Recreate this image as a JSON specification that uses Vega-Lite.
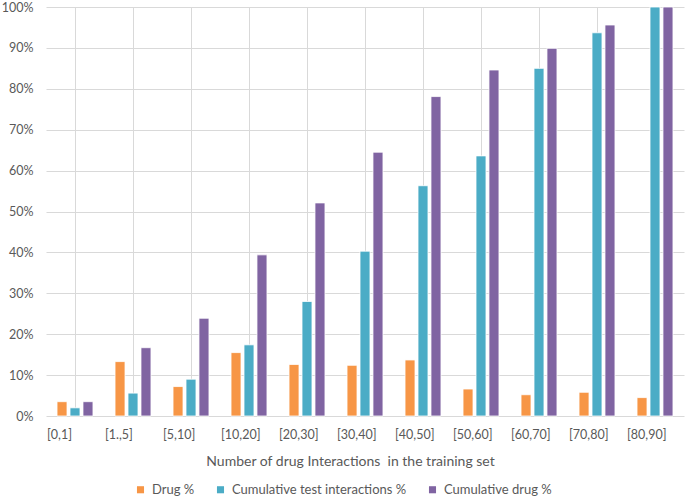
{
  "$schema": "https://vega.github.io/schema/vega-lite/v6.json",
  "autosize": {"type": "none"},
  "padding": {"left": 46, "top": 7, "right": 1, "bottom": 82},
  "width": 638,
  "height": 409,
  "background": "white",
  "config": {
    "view": {"stroke": null},
    "font": "Lato",
    "axis": {"labelFont": "Lato", "titleFont": "Lato", "labelColor": "#595959", "titleColor": "#595959", "gridColor": "#D9D9D9", "gridWidth": 1},
    "legend": {"labelFont": "Lato", "labelColor": "#595959"}
  },
  "data": {
    "values": [
      {"bin": "[0,1]", "series": "Drug %", "value": 3.5},
      {"bin": "[0,1]", "series": "Cumulative test interactions %", "value": 2.0},
      {"bin": "[0,1]", "series": "Cumulative drug %", "value": 3.5},
      {"bin": "[1.,5]", "series": "Drug %", "value": 13.3},
      {"bin": "[1.,5]", "series": "Cumulative test interactions %", "value": 5.6},
      {"bin": "[1.,5]", "series": "Cumulative drug %", "value": 16.7},
      {"bin": "[5,10]", "series": "Drug %", "value": 7.2},
      {"bin": "[5,10]", "series": "Cumulative test interactions %", "value": 9.0},
      {"bin": "[5,10]", "series": "Cumulative drug %", "value": 23.9},
      {"bin": "[10,20]", "series": "Drug %", "value": 15.5},
      {"bin": "[10,20]", "series": "Cumulative test interactions %", "value": 17.4},
      {"bin": "[10,20]", "series": "Cumulative drug %", "value": 39.4},
      {"bin": "[20,30]", "series": "Drug %", "value": 12.6},
      {"bin": "[20,30]", "series": "Cumulative test interactions %", "value": 28.0},
      {"bin": "[20,30]", "series": "Cumulative drug %", "value": 52.1},
      {"bin": "[30,40]", "series": "Drug %", "value": 12.4},
      {"bin": "[30,40]", "series": "Cumulative test interactions %", "value": 40.3},
      {"bin": "[30,40]", "series": "Cumulative drug %", "value": 64.5},
      {"bin": "[40,50]", "series": "Drug %", "value": 13.7},
      {"bin": "[40,50]", "series": "Cumulative test interactions %", "value": 56.3},
      {"bin": "[40,50]", "series": "Cumulative drug %", "value": 78.1},
      {"bin": "[50,60]", "series": "Drug %", "value": 6.6},
      {"bin": "[50,60]", "series": "Cumulative test interactions %", "value": 63.6},
      {"bin": "[50,60]", "series": "Cumulative drug %", "value": 84.6},
      {"bin": "[60,70]", "series": "Drug %", "value": 5.2},
      {"bin": "[60,70]", "series": "Cumulative test interactions %", "value": 85.0},
      {"bin": "[60,70]", "series": "Cumulative drug %", "value": 89.9},
      {"bin": "[70,80]", "series": "Drug %", "value": 5.8},
      {"bin": "[70,80]", "series": "Cumulative test interactions %", "value": 93.7},
      {"bin": "[70,80]", "series": "Cumulative drug %", "value": 95.6},
      {"bin": "[80,90]", "series": "Drug %", "value": 4.5},
      {"bin": "[80,90]", "series": "Cumulative test interactions %", "value": 100},
      {"bin": "[80,90]", "series": "Cumulative drug %", "value": 100}
    ]
  },
  "mark": {"type": "bar", "stroke": "white", "strokeWidth": 0.8},
  "encoding": {
    "x": {
      "field": "bin",
      "type": "nominal",
      "sort": null,
      "scale": {"paddingInner": 0, "paddingOuter": 0},
      "axis": {
        "title": "Number of drug Interactions\u00a0 in the training set",
        "titleFontSize": 14,
        "titleFontWeight": "normal",
        "titlePadding": 14,
        "titleX": 304,
        "titleAnchor": "middle",
        "labelAngle": 0,
        "labelAlign": "left",
        "labelOffset": -28,
        "labelFontSize": 12.5,
        "labelPadding": 12,
        "labelBound": false,
        "labelOverlap": false,
        "ticks": false,
        "domain": false,
        "grid": true
      }
    },
    "xOffset": {
      "field": "series",
      "type": "nominal",
      "sort": ["Drug %", "Cumulative test interactions %", "Cumulative drug %"],
      "scale": {"paddingInner": 0.23, "paddingOuter": 0.85}
    },
    "y": {
      "field": "value",
      "type": "quantitative",
      "scale": {"domain": [0, 100], "nice": false},
      "axis": {
        "title": null,
        "values": [0, 10, 20, 30, 40, 50, 60, 70, 80, 90, 100],
        "labelExpr": "datum.value + '%'",
        "labelFontSize": 12.5,
        "labelPadding": 13,
        "ticks": false,
        "domain": false,
        "grid": true
      }
    },
    "color": {
      "field": "series",
      "type": "nominal",
      "sort": ["Drug %", "Cumulative test interactions %", "Cumulative drug %"],
      "scale": {"domain": ["Drug %", "Cumulative test interactions %", "Cumulative drug %"], "range": ["#F79646", "#4BACC6", "#8064A2"]},
      "legend": {
        "title": null,
        "orient": "none",
        "legendX": 88,
        "legendY": 476,
        "direction": "horizontal",
        "symbolType": "square",
        "symbolSize": 50,
        "symbolStrokeWidth": 0,
        "labelFontSize": 13,
        "labelLimit": 400,
        "labelOffset": 5,
        "columnPadding": 19
      }
    }
  }
}
